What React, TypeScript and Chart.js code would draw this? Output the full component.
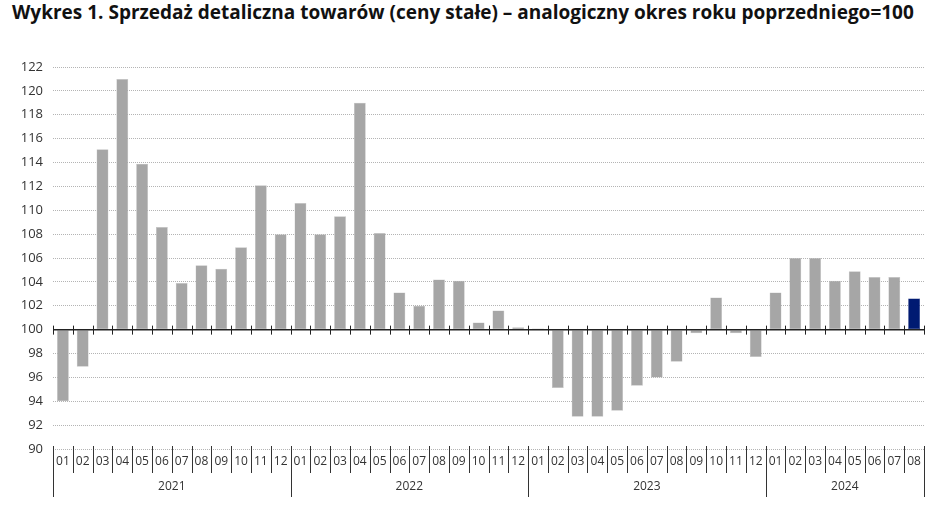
import { useEffect, useRef } from 'react';
import { Chart, registerables } from 'chart.js';

Chart.register(...registerables);

// year groups and the month labels shown under the bars
const years = ['2021', '2022', '2023', '2024'];
const monthsInYear = [12, 12, 12, 8];
const monthLabels = ['01', '02', '03', '04', '05', '06', '07', '08', '09', '10', '11', '12'];

// analogiczny okres roku poprzedniego = 100
const values = [
  94.0, 96.9, 115.1, 121.0, 113.9, 108.6, 103.9, 105.4, 105.1, 106.9, 112.1, 108.0,
  110.6, 108.0, 109.5, 119.0, 108.1, 103.1, 102.0, 104.2, 104.1, 100.6, 101.6, 100.2,
  100.1, 95.1, 92.7, 92.7, 93.2, 95.3, 96.0, 97.3, 99.7, 102.7, 99.7, 97.7,
  103.1, 106.0, 106.0, 104.1, 104.9, 104.4, 104.4, 102.6,
];

const yTicks = { min: 90, max: 122, step: 2 };
const baseValue = 100;

const categories: string[] = [];
years.forEach((yr, i) => {
  for (let m = 0; m < monthsInYear[i]; m++) categories.push(`${yr}-${monthLabels[m]}`);
});

const GREY = '#a6a6a6';
const NAVY = '#001a72';
const INK = '#333333';

const axisPlugin = {
  id: 'customAxes',
  afterDraw(chart: Chart) {
    const { ctx, chartArea } = chart;
    const x = chart.scales.x;
    const y = chart.scales.y;
    const n = categories.length;
    const half = (x.getPixelForValue(1) - x.getPixelForValue(0)) / 2;
    const edge = (i: number) => (i < n ? x.getPixelForValue(i) - half : x.getPixelForValue(n - 1) + half);
    const y0 = y.getPixelForValue(baseValue);

    ctx.save();
    // baseline at 100 with tick marks
    ctx.strokeStyle = '#222';
    ctx.lineWidth = 1.5;
    ctx.beginPath();
    ctx.moveTo(chartArea.left, y0);
    ctx.lineTo(chartArea.right, y0);
    ctx.stroke();
    ctx.lineWidth = 1;
    for (let i = 0; i <= n; i++) {
      const bx = Math.round(edge(i)) + 0.5;
      ctx.beginPath();
      ctx.moveTo(bx, y0 - 4);
      ctx.lineTo(bx, y0 + 5);
      ctx.stroke();
    }

    // month / year separators below the plot
    const yearStarts = new Set<number>();
    let acc = 0;
    yearStarts.add(0);
    monthsInYear.forEach((c) => {
      acc += c;
      yearStarts.add(acc);
    });
    const top = chartArea.bottom - 3;
    ctx.strokeStyle = INK;
    for (let i = 0; i <= n; i++) {
      const bx = Math.round(edge(i)) + 0.5;
      ctx.beginPath();
      ctx.moveTo(bx, top);
      ctx.lineTo(bx, yearStarts.has(i) ? chartArea.bottom + 48 : chartArea.bottom + 24);
      ctx.stroke();
    }

    ctx.fillStyle = INK;
    ctx.textAlign = 'center';
    ctx.textBaseline = 'middle';
    ctx.font = '12px "Open Sans"';
    categories.forEach((c, i) => {
      ctx.fillText(c.slice(5), x.getPixelForValue(i), chartArea.bottom + 13);
    });
    let start = 0;
    years.forEach((yr, i) => {
      const mid = (edge(start) + edge(start + monthsInYear[i])) / 2;
      ctx.fillText(yr, mid, chartArea.bottom + 38);
      start += monthsInYear[i];
    });
    ctx.restore();
  },
};

export default function App() {
  const canvasRef = useRef<HTMLCanvasElement>(null);

  useEffect(() => {
    if (!canvasRef.current) return;
    const chart = new Chart(canvasRef.current, {
      type: 'bar',
      data: {
        labels: categories,
        datasets: [
          {
            data: values,
            base: baseValue,
            backgroundColor: values.map((_, i) => (i === values.length - 1 ? NAVY : GREY)),
            borderColor: values.map((_, i) => (i === values.length - 1 ? NAVY : '#c4c4c4')),
            borderWidth: 0.5,
            borderSkipped: false,
            barPercentage: 0.6,
            categoryPercentage: 1,
          },
        ],
      },
      options: {
        responsive: false,
        animation: false,
        layout: { padding: { left: 8, right: 24, top: 67, bottom: 64 } },
        plugins: { legend: { display: false }, tooltip: { enabled: false } },
        scales: {
          x: { display: false },
          y: {
            min: yTicks.min,
            max: yTicks.max,
            afterFit: (scale: any) => {
              scale.width = 45;
            },
            ticks: {
              stepSize: yTicks.step,
              padding: 10,
              color: INK,
              font: { family: '"Open Sans"', size: 13 },
            },
            // dotted gridlines
            border: { display: false, dash: [1, 1] },
            grid: {
              drawTicks: false,
              color: '#b4b4b4',
              lineWidth: 1,
            },
          },
        },
      },
      plugins: [axisPlugin],
    });
    return () => chart.destroy();
  }, []);

  return (
    <div style={{ position: 'absolute', left: 0, top: 0, width: 948, height: 513, background: '#fff' }}>
      <div
        style={{
          position: 'absolute',
          left: 12,
          top: -1,
          fontFamily: '"Open Sans", sans-serif',
          fontWeight: 700,
          fontSize: 19,
          lineHeight: '26px',
          color: '#111',
          whiteSpace: 'nowrap',
        }}
      >
        Wykres 1. Sprzedaż detaliczna towarów (ceny stałe) – analogiczny okres roku poprzedniego=100
      </div>
      <canvas ref={canvasRef} width={948} height={513} style={{ position: 'absolute', left: 0, top: 0 }} />
    </div>
  );
}
